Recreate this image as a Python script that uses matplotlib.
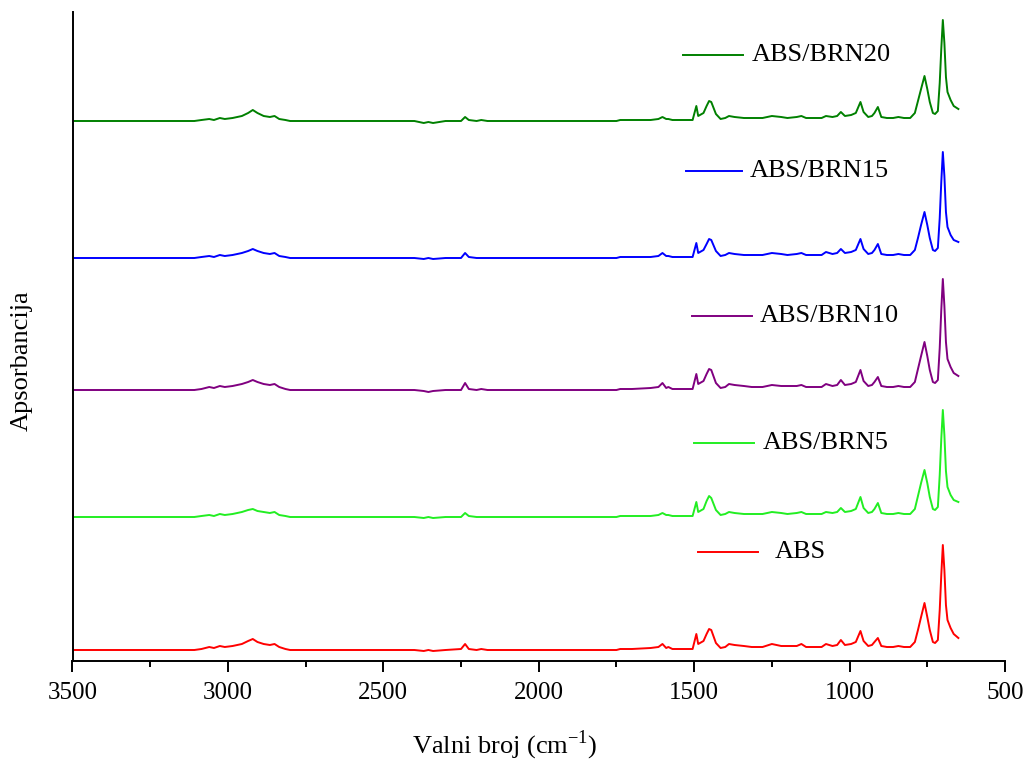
import matplotlib
matplotlib.use("Agg")
import matplotlib.pyplot as plt
from matplotlib.lines import Line2D
from matplotlib.ticker import MultipleLocator

plt.rcParams['font.family'] = ['Liberation Serif', 'DejaVu Serif']

# FTIR spectra: wavenumber grid (cm^-1) and absorbance above each baseline (mAU)
wavenumber = [3500, 3300, 3108, 3085, 3060, 3045, 3026, 3010, 2985, 2955,
              2935, 2920, 2905, 2885, 2865, 2850, 2835, 2815, 2800, 2400,
              2370, 2355, 2340, 2300, 2250, 2237, 2225, 2200, 2185, 2165,
              1900, 1750, 1738, 1700, 1640, 1615, 1602, 1590, 1583, 1570,
              1540, 1520, 1505, 1493, 1487, 1470, 1460, 1452, 1445, 1430,
              1415, 1400, 1388, 1370, 1340, 1315, 1280, 1250, 1220, 1200,
              1170, 1155, 1140, 1110, 1090, 1076, 1055, 1040, 1028, 1015,
              995, 980, 965, 955, 940, 928, 920, 909, 898, 880,
              860, 843, 825, 805, 790, 780, 770, 759, 750, 742,
              732, 725, 716, 710, 705, 700, 695, 690, 685, 675,
              665, 650]

abs_pure = [0, 0, 0, 1, 3, 2, 4, 3, 4, 6,
            9, 11, 8, 6, 5, 6, 3, 1, 0, 0,
            -1, 0, -1, 0, 1, 6, 1, 0, 1, 0,
            0, 0, 1, 1, 2, 3, 6, 2, 3, 1,
            1, 1, 1, 16, 6, 9, 16, 21, 20, 7,
            2, 3, 6, 5, 4, 3, 3, 6, 4, 4,
            4, 6, 3, 3, 3, 6, 4, 5, 10, 5,
            6, 8, 19, 9, 4, 5, 8, 12, 4, 3,
            3, 4, 3, 3, 8, 20, 33, 47, 33, 20,
            8, 7, 10, 40, 75, 105, 80, 45, 30, 22,
            16, 12]

abs_brn5 = [0, 0, 0, 1, 2, 1, 3, 2, 3, 5,
            7, 8, 6, 5, 4, 5, 2, 1, 0, 0,
            -1, 0, -1, 0, 0, 4, 1, 0, 0, 0,
            0, 0, 1, 1, 1, 2, 4, 2, 2, 1,
            1, 1, 1, 15, 5, 8, 16, 21, 19, 7,
            2, 3, 5, 4, 3, 3, 3, 5, 4, 3,
            4, 5, 3, 3, 3, 5, 4, 5, 9, 5,
            6, 8, 20, 9, 4, 5, 8, 14, 4, 3,
            3, 4, 3, 3, 8, 21, 34, 47, 34, 20,
            8, 7, 10, 42, 78, 107, 82, 46, 30, 22,
            17, 15]

abs_brn10 = [0, 0, 0, 1, 3, 2, 4, 3, 4, 6,
             8, 10, 8, 6, 5, 6, 3, 1, 0, 0,
             -1, -2, -1, 0, 0, 7, 1, 0, 1, 0,
             0, 0, 1, 1, 2, 3, 7, 2, 3, 1,
             1, 1, 1, 16, 6, 9, 16, 21, 20, 7,
             2, 3, 6, 5, 4, 3, 3, 5, 4, 4,
             4, 5, 3, 3, 3, 6, 4, 5, 10, 5,
             6, 8, 20, 9, 4, 5, 8, 13, 4, 3,
             3, 4, 3, 3, 8, 21, 34, 48, 34, 20,
             8, 7, 10, 42, 80, 111, 84, 48, 31, 23,
             17, 14]

abs_brn15 = [0, 0, 0, 1, 2, 1, 3, 2, 3, 5,
             7, 9, 7, 5, 4, 5, 2, 1, 0, 0,
             -1, 0, -1, 0, 0, 5, 1, 0, 0, 0,
             0, 0, 1, 1, 1, 2, 5, 2, 2, 1,
             1, 1, 1, 15, 5, 8, 14, 19, 18, 7,
             2, 3, 5, 4, 3, 3, 3, 5, 4, 3,
             4, 5, 3, 3, 3, 6, 4, 5, 9, 5,
             6, 8, 19, 9, 4, 5, 8, 14, 4, 3,
             3, 4, 3, 3, 8, 20, 33, 46, 33, 20,
             8, 7, 10, 40, 76, 106, 82, 46, 31, 23,
             18, 16]

abs_brn20 = [0, 0, 0, 1, 2, 1, 3, 2, 3, 5,
             8, 11, 8, 5, 4, 5, 2, 1, 0, 0,
             -2, -1, -2, 0, 0, 4, 1, 0, 1, 0,
             0, 0, 1, 1, 1, 2, 4, 2, 2, 1,
             1, 1, 1, 15, 5, 8, 15, 20, 19, 7,
             2, 3, 5, 4, 3, 3, 3, 5, 4, 3,
             4, 5, 3, 3, 3, 5, 4, 5, 9, 5,
             6, 8, 19, 9, 4, 5, 8, 14, 4, 3,
             3, 4, 3, 3, 8, 20, 32, 45, 32, 19,
             8, 7, 10, 38, 72, 101, 78, 44, 29, 21,
             15, 12]

sample_names = ["ABS", "ABS/BRN5", "ABS/BRN10", "ABS/BRN15", "ABS/BRN20"]
spectra = [abs_pure, abs_brn5, abs_brn10, abs_brn15, abs_brn20]

# stacking offsets (mAU) and colours for each sample
offsets = [11, 144, 271, 403, 540]
colors = ["#ff0000", "#22ee22", "#800080", "#0000ff", "#008000"]

# legend-like labels: (line x0, line x1, y, text x) in pixels of a 1028x761 canvas
label_pos = [(698, 758, 552, 775),
             (694, 754, 443, 763),
             (692, 752, 316, 760),
             (686, 742, 171, 750),
             (683, 743, 55, 752)]

W, H = 1028, 761
fig = plt.figure(figsize=(W / 100, H / 100), dpi=100)
ax = fig.add_axes([72.5 / W, 100 / H, (1005 - 72.5) / W, (661 - 12) / H])

for vals, off, col in zip(spectra, offsets, colors):
    ax.plot(wavenumber, [v + off for v in vals], color=col, lw=1.4)

ax.set_xlim(3500, 500)
ax.set_ylim(0, 649)
ax.xaxis.set_major_locator(MultipleLocator(500))
ax.xaxis.set_minor_locator(MultipleLocator(250))
ax.tick_params(axis='x', which='major', direction='out', length=8, width=1.4,
               labelsize=18, pad=7)
ax.tick_params(axis='x', which='minor', direction='out', length=4.5, width=1.4)
ax.set_yticks([])
for s in ['top', 'right']:
    ax.spines[s].set_visible(False)
for s in ['left', 'bottom']:
    ax.spines[s].set_linewidth(1.4)

fig.text(505 / W, 1 - 745 / H, "Valni broj (cm$^{\\mathregular{-1}}$)",
         fontsize=19, ha='center', va='center')
fig.text(22 / W, 1 - 361 / H, "Apsorbancija", fontsize=19, rotation=90,
         ha='center', va='center')

for name, col, (x0, x1, y, tx) in zip(sample_names, colors, label_pos):
    fig.add_artist(Line2D([x0 / W, x1 / W], [1 - y / H, 1 - y / H],
                          color=col, lw=1.4, transform=fig.transFigure))
    fig.text(tx / W, 1 - y / H, name, fontsize=19, va='center', ha='left')

fig.savefig("out.png", dpi=100)
